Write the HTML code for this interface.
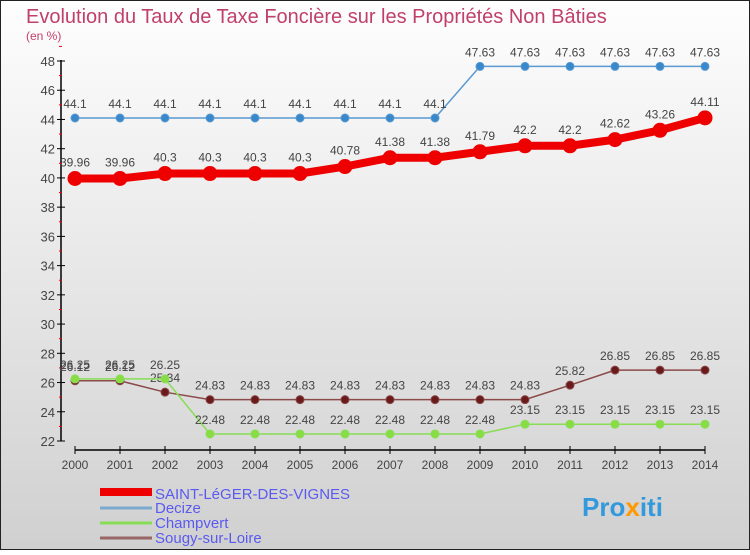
<!DOCTYPE html>
<html><head><meta charset="utf-8"><style>
body{margin:0;width:750px;height:550px;overflow:hidden;font-family:"Liberation Sans",sans-serif}
</style></head><body>
<svg width="750" height="550" xmlns="http://www.w3.org/2000/svg">
<defs><linearGradient id="bg" x1="0" y1="0" x2="0" y2="1"><stop offset="0" stop-color="#fefefe"/><stop offset="1" stop-color="#d0d0d0"/></linearGradient></defs>
<rect x="0.5" y="0.5" width="749" height="549" fill="url(#bg)" stroke="#222"/>
<text x="26" y="23" font-size="20" fill="#c0406a">Evolution du Taux de Taxe Foncière sur les Propriétés Non Bâties</text>
<text x="26" y="40" font-size="12" fill="#c0406a">(en %)</text>
<g id="axes"></g>
<g id="series"></g>
<g>
<rect x="100" y="488" width="52" height="8" fill="#e00"/>
<text x="155" y="499" font-size="15" fill="#5a5af0">SAINT-LéGER-DES-VIGNES</text>
<line x1="100" y1="508" x2="152" y2="508" stroke="#7aaacc" stroke-width="3"/>
<text x="155" y="513" font-size="15" fill="#5a5af0">Decize</text>
<line x1="100" y1="523" x2="152" y2="523" stroke="#88dd55" stroke-width="3"/>
<text x="155" y="528" font-size="15" fill="#5a5af0">Champvert</text>
<line x1="100" y1="538" x2="152" y2="538" stroke="#996666" stroke-width="3"/>
<text x="155" y="543" font-size="15" fill="#5a5af0">Sougy-sur-Loire</text>
</g>
<text x="582" y="516" font-size="26" font-weight="bold" fill="#3399dd">Pro<tspan fill="#ff9900">x</tspan>iti</text>
</svg>
<script>
const years=[2000,2001,2002,2003,2004,2005,2006,2007,2008,2009,2010,2011,2012,2013,2014];
const yTicks=[22,24,26,28,30,32,34,36,38,40,42,44,46,48];
const saintLeger=[39.96,39.96,40.3,40.3,40.3,40.3,40.78,41.38,41.38,41.79,42.2,42.2,42.62,43.26,44.11];
const decize=[44.1,44.1,44.1,44.1,44.1,44.1,44.1,44.1,44.1,47.63,47.63,47.63,47.63,47.63,47.63];
const champvert=[26.25,26.25,26.25,22.48,22.48,22.48,22.48,22.48,22.48,22.48,23.15,23.15,23.15,23.15,23.15];
const sougy=[26.12,26.12,25.34,24.83,24.83,24.83,24.83,24.83,24.83,24.83,24.83,25.82,26.85,26.85,26.85];
const NS="http://www.w3.org/2000/svg";
const xs=i=>75+i*45;
const ys=v=>441-(v-22)*(380/26);
function mk(t,a,p){const e=document.createElementNS(NS,t);for(const k in a)e.setAttribute(k,a[k]);p.appendChild(e);return e;}
const ax=document.getElementById('axes');
let yl=mk('line',{x1:61,y1:60,x2:61,y2:441,stroke:'#000','stroke-width':1.5},ax);


yTicks.forEach(v=>{
 mk('line',{x1:57,y1:ys(v),x2:65,y2:ys(v),stroke:'#000'},ax);
 mk('line',{x1:59,y1:ys(v+1),x2:62,y2:ys(v+1),stroke:'#e00'},ax);
 const t=mk('text',{x:55,y:ys(v)+5,'font-size':13,fill:'#444','text-anchor':'end'},ax);
 t.textContent=v;
 
 
});
let xl=mk('line',{x1:75,y1:450,x2:705,y2:450,stroke:'#000','stroke-width':1.5},ax);


years.forEach((y,i)=>{
 mk('line',{x1:xs(i),y1:446,x2:xs(i),y2:454,stroke:'#000'},ax);
 const t=mk('text',{x:xs(i),y:469,'font-size':12,fill:'#444','text-anchor':'middle'},ax);
 t.textContent=y;
 
 
});
const sg=document.getElementById('series');
function draw(arr,name,color,w,r,mcolor,labelOff,fs){
 const g=mk('g',{},sg);
 
 
 const l=mk('polyline',{points:arr.map((v,i)=>xs(i)+','+ys(v)).join(' '),fill:'none',stroke:color,'stroke-width':w,'stroke-linejoin':'round'},g);
 
 
 arr.forEach((v,i)=>{
  const c=mk('circle',{cx:xs(i),cy:ys(v),r:r,fill:mcolor,stroke:color,'stroke-width':1},g);
  
  
  const t=mk('text',{x:xs(i),y:ys(v)+labelOff,'font-size':fs,fill:'#444','text-anchor':'middle'},g);
  t.textContent=v;
  
  
 });
}
draw(decize,'decize','#5a9ad0',1.5,4,'#3a88cc',-10,12);
draw(sougy,'sougy','#8a4a4a',1.5,4,'#6a1a1a',-10,12);
draw(champvert,'champvert','#88dd55',1.5,4,'#88dd44',-10,12);
draw(saintLeger,'saint-leger','#e00',8,7,'#e00',-12,12);
</script>
</body></html>
